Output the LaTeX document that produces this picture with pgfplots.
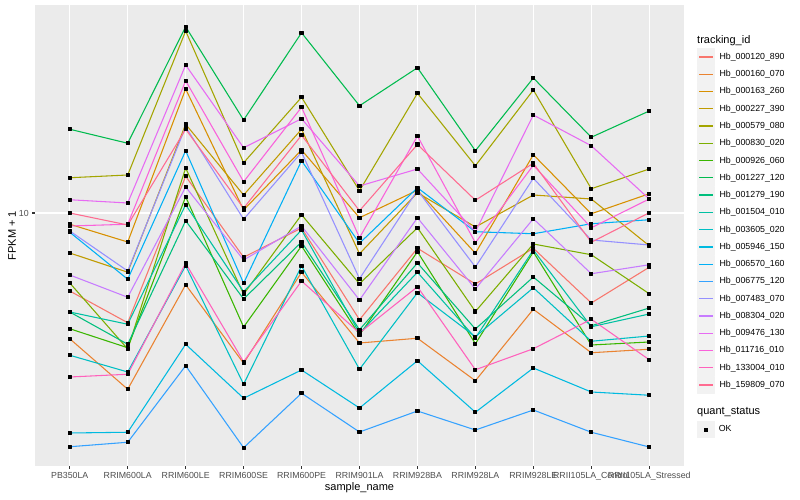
\documentclass[border=0pt]{standalone}
\usepackage{fontspec}
\setmainfont{Liberation Sans}
\usepackage{pgfplots}
\usepackage{pgfplotstable}
\pgfplotsset{compat=1.18}
\definecolor{c01}{HTML}{F8766D}
\definecolor{c02}{HTML}{EA8331}
\definecolor{c03}{HTML}{D89000}
\definecolor{c04}{HTML}{C09B00}
\definecolor{c05}{HTML}{A3A500}
\definecolor{c06}{HTML}{7CAE00}
\definecolor{c07}{HTML}{39B600}
\definecolor{c08}{HTML}{00BB4E}
\definecolor{c09}{HTML}{00BF7D}
\definecolor{c10}{HTML}{00C1A3}
\definecolor{c11}{HTML}{00BFC4}
\definecolor{c12}{HTML}{00BAE0}
\definecolor{c13}{HTML}{00B0F6}
\definecolor{c14}{HTML}{35A2FF}
\definecolor{c15}{HTML}{9590FF}
\definecolor{c16}{HTML}{C77CFF}
\definecolor{c17}{HTML}{E76BF3}
\definecolor{c18}{HTML}{FA62DB}
\definecolor{c19}{HTML}{FF62BC}
\definecolor{c20}{HTML}{FF6C91}
\definecolor{panelbg}{HTML}{EBEBEB}
\definecolor{keybg}{HTML}{F2F2F2}
\definecolor{grey30}{HTML}{4D4D4D}
\definecolor{grey20}{HTML}{333333}
% log10(FPKM + 1) for each tracking_id (columns) and sample (rows)
\pgfplotstableread{
x s01 s02 s03 s04 s05 s06 s07 s08 s09 s10 s11 s12 s13 s14 s15 s16 s17 s18 s19 s20
0 0.688 0.497 0.955 0.840 1.141 0.720 0.537 1.335 0.604 0.604 0.431 0.120 0.923 0.065 0.928 0.752 1.053 0.948 0.344 1.000
1 0.561 0.295 0.884 0.763 1.152 0.456 0.461 1.279 0.475 0.555 0.364 0.123 0.735 0.083 0.768 0.663 1.040 0.955 0.355 0.952
2 1.147 0.713 1.496 1.355 1.728 1.180 1.065 1.745 0.969 1.033 0.789 0.475 1.249 0.389 1.345 1.104 1.592 1.529 0.799 1.335
3 0.823 0.399 1.012 1.072 1.201 0.675 0.544 1.372 0.656 0.685 0.315 0.259 0.719 0.061 0.975 0.812 1.261 1.125 0.405 1.019
4 0.940 0.763 1.252 1.335 1.463 0.993 0.868 1.721 0.884 0.932 0.788 0.372 1.209 0.279 1.243 0.948 1.377 1.423 0.728 1.311
5 0.573 0.480 0.981 0.837 1.089 0.717 0.512 1.429 0.533 0.519 0.375 0.220 0.879 0.124 0.737 0.652 1.108 0.901 0.520 1.009
6 0.859 0.499 1.091 1.081 1.479 0.941 0.845 1.581 0.800 0.763 0.681 0.409 1.101 0.208 1.091 0.981 1.176 1.308 0.705 1.274
7 0.716 0.329 0.839 0.944 1.189 0.606 0.477 1.249 0.536 0.500 0.505 0.203 0.925 0.132 0.784 0.696 0.925 0.881 0.373 1.051
8 0.859 0.615 1.233 1.072 1.492 0.876 0.844 1.540 0.744 0.852 0.701 0.380 0.917 0.212 1.139 0.977 1.392 1.191 0.457 1.199
9 0.640 0.441 0.997 1.056 1.097 0.833 0.472 1.303 0.549 0.545 0.487 0.284 0.957 0.123 0.892 0.757 1.269 0.941 0.575 0.883
10 0.783 0.455 1.077 0.869 1.176 0.677 0.484 1.408 0.620 0.596 0.508 0.271 0.973 0.064 0.872 0.793 1.056 1.056 0.413 1.001
}\fpkm
\begin{document}
\begin{tikzpicture}
\useasboundingbox (0pt,0pt) rectangle (800pt,500pt);
\begin{axis}[
  at={(35pt,34pt)}, anchor=south west,
  width=649pt, height=460.5pt, scale only axis,
  xmin=-0.6, xmax=10.6, ymin=-0.012, ymax=1.83,
  axis background/.style={fill=panelbg},
  axis line style={draw=none},
  xtick={0,...,10},
  xticklabels={PB350LA,RRIM600LA,RRIM600LE,RRIM600SE,RRIM600PE,RRIM901LA,RRIM928BA,RRIM928LA,RRIM928LE,RRII105LA\_Control,RRII105LA\_Stressed},
  ytick={1}, yticklabels={10},
  minor tick num=0,
  grid=major,
  major grid style={white, line width=1.07pt},
  tick pos=left, tick align=outside,
  major tick length=2.75pt,
  tick style={grey20, line width=1.07pt},
  ticklabel style={font=\fontsize{8.8}{10}\selectfont, text=grey30},
  xlabel={sample\_name}, ylabel={FPKM + 1},
  label style={font=\fontsize{11}{13}\selectfont},
  xlabel style={at={(axis description cs:0.5,0)}, anchor=center, yshift=-22pt},
  ylabel style={at={(axis description cs:-0.0354,0.5)}, anchor=center},
  legend style={at={(axis description cs:1.02,0.907)}, anchor=north west,
    draw=none, fill=none, inner sep=0pt, outer sep=0pt,
    row sep=0pt, column sep=2.2pt,
    font=\fontsize{8.8}{10}\selectfont,
    cells={anchor=west, inner sep=0pt}},
  legend image code/.code={%
    \fill[keybg] (0pt,-8.1pt) rectangle (17.28pt,8.1pt);
    \draw[#1, line width=1.3pt] (1.73pt,0pt) -- (15.55pt,0pt);},
  legend entries={Hb\_000120\_890,Hb\_000160\_070,Hb\_000163\_260,Hb\_000227\_390,Hb\_000579\_080,Hb\_000830\_020,Hb\_000926\_060,Hb\_001227\_120,Hb\_001279\_190,Hb\_001504\_010,Hb\_003605\_020,Hb\_005946\_150,Hb\_006570\_160,Hb\_006775\_120,Hb\_007483\_070,Hb\_008304\_020,Hb\_009476\_130,Hb\_011716\_010,Hb\_133004\_010,Hb\_159809\_070},
  every axis plot/.append style={line width=1.07pt, line join=round},
]
\addplot[c01] table[x=x,y=s01]{\fpkm};
\addplot[c02] table[x=x,y=s02]{\fpkm};
\addplot[c03] table[x=x,y=s03]{\fpkm};
\addplot[c04] table[x=x,y=s04]{\fpkm};
\addplot[c05] table[x=x,y=s05]{\fpkm};
\addplot[c06] table[x=x,y=s06]{\fpkm};
\addplot[c07] table[x=x,y=s07]{\fpkm};
\addplot[c08] table[x=x,y=s08]{\fpkm};
\addplot[c09] table[x=x,y=s09]{\fpkm};
\addplot[c10] table[x=x,y=s10]{\fpkm};
\addplot[c11] table[x=x,y=s11]{\fpkm};
\addplot[c12] table[x=x,y=s12]{\fpkm};
\addplot[c13] table[x=x,y=s13]{\fpkm};
\addplot[c14] table[x=x,y=s14]{\fpkm};
\addplot[c15] table[x=x,y=s15]{\fpkm};
\addplot[c16] table[x=x,y=s16]{\fpkm};
\addplot[c17] table[x=x,y=s17]{\fpkm};
\addplot[c18] table[x=x,y=s18]{\fpkm};
\addplot[c19] table[x=x,y=s19]{\fpkm};
\addplot[c20] table[x=x,y=s20]{\fpkm};
\pgfplotsinvokeforeach{01,02,03,04,05,06,07,08,09,10,11,12,13,14,15,16,17,18,19,20}{
  \addplot[forget plot, only marks, mark=square*, mark size=1.55pt, black] table[x=x,y=s#1]{\fpkm};
}
\end{axis}
\begin{axis}[
  at={(35pt,34pt)}, anchor=south west,
  width=649pt, height=460.5pt, scale only axis,
  xmin=0, xmax=1, ymin=0, ymax=1, hide axis,
  legend style={at={(axis description cs:1.02,0.0977)}, anchor=north west,
    draw=none, fill=none, inner sep=0pt, outer sep=0pt,
    column sep=2.2pt,
    font=\fontsize{8.8}{10}\selectfont,
    cells={anchor=west, inner sep=0pt}},
  legend image code/.code={%
    \fill[keybg] (0pt,-8.1pt) rectangle (17.28pt,8.1pt);
    \draw[#1] plot coordinates {(8.64pt,0pt)};},
]
\addlegendimage{only marks, mark=square*, mark size=1.55pt, black}
\addlegendentry{OK}
\end{axis}
\node[anchor=west, inner sep=0pt, font=\fontsize{11}{13}\selectfont] at (697pt,459.3pt) {tracking\_id};
\node[anchor=west, inner sep=0pt, font=\fontsize{11}{13}\selectfont] at (697pt,87.7pt) {quant\_status};
\end{tikzpicture}
\end{document}
